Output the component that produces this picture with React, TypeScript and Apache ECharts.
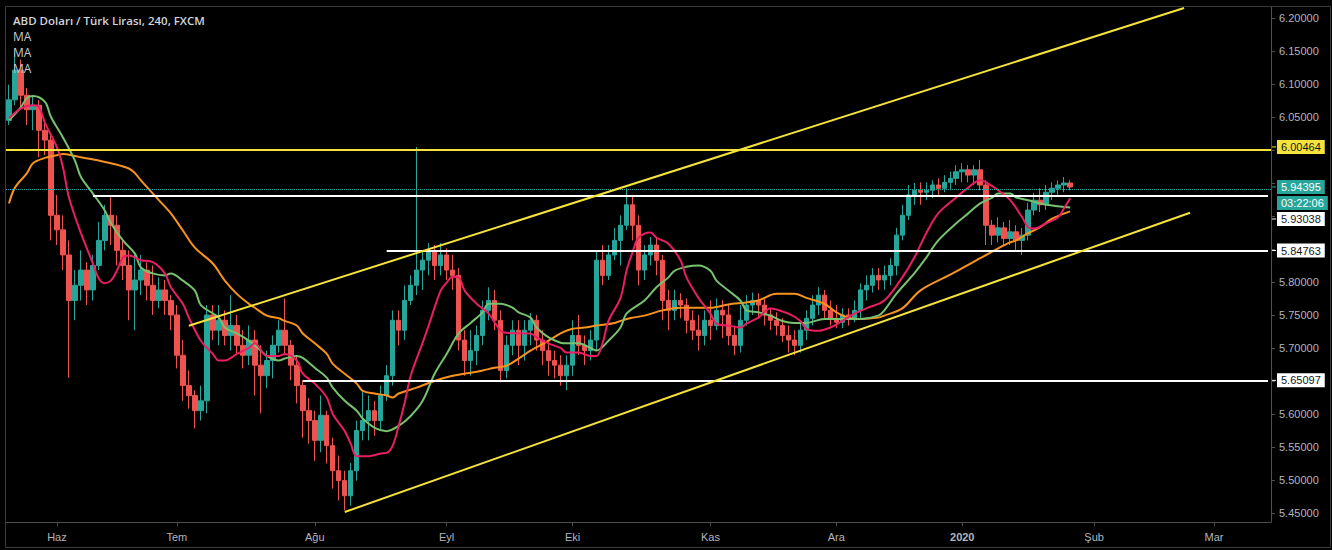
import React, { useEffect, useRef } from "react";
import * as echarts from "echarts";

// ---------- data ----------
const HOLIDAYS = ["2019-12-25", "2020-01-01"];
const DAY_COUNT = 211;
const MONTH_NAMES = ["", "Şub", "Mar", "Nis", "May", "Haz", "Tem", "Ağu", "Eyl", "Eki", "Kas", "Ara"];

const candleOpen = [
  6.045, 6.076, 6.121, 6.083, 6.061, 6.068, 6.030, 6.015, 5.901, 5.879,
  5.841, 5.772, 5.795, 5.818, 5.788, 5.825, 5.863, 5.901, 5.886, 5.848,
  5.825, 5.788, 5.803, 5.818, 5.795, 5.772, 5.788, 5.772, 5.750, 5.689,
  5.643, 5.628, 5.605, 5.620, 5.750, 5.727, 5.742, 5.719, 5.734, 5.704,
  5.689, 5.712, 5.674, 5.658, 5.681, 5.704, 5.727, 5.704, 5.674, 5.643,
  5.605, 5.590, 5.560, 5.598, 5.552, 5.514, 5.499, 5.476, 5.514, 5.575,
  5.590, 5.605, 5.590, 5.628, 5.658, 5.742, 5.727, 5.772, 5.795, 5.818,
  5.833, 5.848, 5.825, 5.841, 5.818, 5.810, 5.712, 5.681, 5.696, 5.719,
  5.757, 5.772, 5.742, 5.666, 5.704, 5.727, 5.704, 5.727, 5.742, 5.712,
  5.696, 5.681, 5.674, 5.658, 5.674, 5.719, 5.704, 5.696, 5.712, 5.833,
  5.810, 5.841, 5.863, 5.886, 5.917, 5.886, 5.818, 5.841, 5.856, 5.833,
  5.772, 5.757, 5.772, 5.765, 5.742, 5.727, 5.719, 5.742, 5.734, 5.757,
  5.750, 5.719, 5.704, 5.742, 5.765, 5.772, 5.765, 5.750, 5.742, 5.734,
  5.719, 5.712, 5.704, 5.727, 5.745, 5.765, 5.780, 5.757, 5.745, 5.739,
  5.750, 5.745, 5.757, 5.788, 5.795, 5.810, 5.803, 5.810, 5.825, 5.871,
  5.901, 5.932, 5.939, 5.936, 5.939, 5.947, 5.942, 5.951, 5.957, 5.967,
  5.970, 5.962, 5.970, 5.947, 5.886, 5.871, 5.882, 5.866, 5.876, 5.863,
  5.871, 5.909, 5.924, 5.917, 5.936, 5.942, 5.947, 5.950,
];
const candleClose = [
  6.076, 6.121, 6.083, 6.061, 6.068, 6.030, 6.015, 5.901, 5.879, 5.841,
  5.772, 5.795, 5.818, 5.788, 5.825, 5.863, 5.901, 5.886, 5.848, 5.825,
  5.788, 5.803, 5.818, 5.795, 5.772, 5.788, 5.772, 5.750, 5.689, 5.643,
  5.628, 5.605, 5.620, 5.750, 5.727, 5.742, 5.719, 5.734, 5.704, 5.689,
  5.712, 5.674, 5.658, 5.681, 5.704, 5.727, 5.704, 5.674, 5.643, 5.605,
  5.590, 5.560, 5.598, 5.552, 5.514, 5.499, 5.476, 5.514, 5.575, 5.590,
  5.605, 5.590, 5.628, 5.658, 5.742, 5.727, 5.772, 5.795, 5.818, 5.833,
  5.848, 5.825, 5.841, 5.818, 5.810, 5.712, 5.681, 5.696, 5.719, 5.757,
  5.772, 5.742, 5.666, 5.704, 5.727, 5.704, 5.727, 5.742, 5.712, 5.696,
  5.681, 5.674, 5.658, 5.674, 5.719, 5.704, 5.696, 5.712, 5.833, 5.810,
  5.841, 5.863, 5.886, 5.917, 5.886, 5.818, 5.841, 5.856, 5.833, 5.772,
  5.757, 5.772, 5.765, 5.742, 5.727, 5.719, 5.742, 5.734, 5.757, 5.750,
  5.719, 5.704, 5.742, 5.765, 5.772, 5.765, 5.750, 5.742, 5.734, 5.719,
  5.712, 5.704, 5.727, 5.745, 5.765, 5.780, 5.757, 5.745, 5.739, 5.750,
  5.745, 5.757, 5.788, 5.795, 5.810, 5.803, 5.810, 5.825, 5.871, 5.901,
  5.932, 5.939, 5.936, 5.939, 5.947, 5.942, 5.951, 5.957, 5.967, 5.970,
  5.962, 5.970, 5.947, 5.886, 5.871, 5.882, 5.866, 5.876, 5.863, 5.871,
  5.909, 5.924, 5.917, 5.936, 5.942, 5.947, 5.950, 5.94395,
];
const candleHigh = [
  6.099, 6.149, 6.137, 6.094, 6.083, 6.076, 6.046, 6.026, 5.932, 5.901,
  5.863, 5.818, 5.848, 5.830, 5.841, 5.891, 5.917, 5.930, 5.901, 5.863,
  5.848, 5.841, 5.841, 5.830, 5.825, 5.807, 5.803, 5.780, 5.765, 5.712,
  5.666, 5.636, 5.643, 5.765, 5.765, 5.765, 5.757, 5.780, 5.750, 5.727,
  5.734, 5.727, 5.704, 5.696, 5.719, 5.742, 5.775, 5.712, 5.689, 5.651,
  5.624, 5.605, 5.628, 5.605, 5.564, 5.537, 5.514, 5.526, 5.590, 5.636,
  5.628, 5.620, 5.643, 5.674, 5.757, 5.757, 5.795, 5.810, 6.00464, 5.848,
  5.859, 5.856, 5.859, 5.851, 5.841, 5.821, 5.727, 5.727, 5.734, 5.772,
  5.792, 5.788, 5.757, 5.719, 5.742, 5.742, 5.742, 5.753, 5.750, 5.727,
  5.712, 5.696, 5.689, 5.689, 5.742, 5.750, 5.719, 5.727, 5.848, 5.856,
  5.856, 5.882, 5.901, 5.942, 5.932, 5.901, 5.856, 5.868, 5.868, 5.841,
  5.788, 5.788, 5.783, 5.775, 5.757, 5.750, 5.757, 5.772, 5.775, 5.772,
  5.765, 5.734, 5.765, 5.780, 5.784, 5.783, 5.775, 5.760, 5.754, 5.745,
  5.734, 5.727, 5.739, 5.757, 5.780, 5.792, 5.788, 5.772, 5.765, 5.760,
  5.760, 5.772, 5.798, 5.810, 5.821, 5.821, 5.825, 5.836, 5.882, 5.917,
  5.947, 5.950, 5.951, 5.951, 5.954, 5.957, 5.962, 5.967, 5.977, 5.980,
  5.977, 5.977, 5.985, 5.954, 5.894, 5.898, 5.891, 5.894, 5.886, 5.882,
  5.920, 5.935, 5.942, 5.947, 5.951, 5.954, 5.959, 5.954,
];
const candleLow = [
  6.038, 6.068, 6.061, 6.038, 6.030, 5.989, 5.992, 5.863, 5.856, 5.818,
  5.655, 5.742, 5.772, 5.765, 5.772, 5.818, 5.848, 5.856, 5.825, 5.803,
  5.742, 5.727, 5.780, 5.772, 5.750, 5.760, 5.750, 5.727, 5.669, 5.620,
  5.608, 5.578, 5.590, 5.601, 5.712, 5.704, 5.704, 5.696, 5.689, 5.669,
  5.674, 5.628, 5.601, 5.639, 5.654, 5.693, 5.689, 5.651, 5.616, 5.564,
  5.555, 5.529, 5.542, 5.525, 5.487, 5.469, 5.454, 5.461, 5.499, 5.560,
  5.560, 5.567, 5.575, 5.620, 5.643, 5.704, 5.712, 5.765, 5.780, 5.788,
  5.810, 5.803, 5.810, 5.803, 5.788, 5.696, 5.658, 5.658, 5.674, 5.704,
  5.742, 5.727, 5.648, 5.654, 5.689, 5.674, 5.681, 5.704, 5.696, 5.674,
  5.658, 5.654, 5.643, 5.636, 5.658, 5.689, 5.674, 5.681, 5.696, 5.795,
  5.803, 5.833, 5.825, 5.879, 5.863, 5.795, 5.803, 5.825, 5.810, 5.742,
  5.727, 5.742, 5.745, 5.722, 5.712, 5.696, 5.704, 5.712, 5.727, 5.715,
  5.704, 5.689, 5.693, 5.734, 5.750, 5.745, 5.734, 5.727, 5.719, 5.709,
  5.693, 5.689, 5.693, 5.712, 5.734, 5.750, 5.745, 5.734, 5.730, 5.730,
  5.734, 5.739, 5.745, 5.772, 5.784, 5.788, 5.788, 5.795, 5.810, 5.863,
  5.894, 5.917, 5.917, 5.924, 5.927, 5.932, 5.936, 5.939, 5.947, 5.951,
  5.951, 5.947, 5.939, 5.856, 5.856, 5.860, 5.856, 5.856, 5.848, 5.841,
  5.863, 5.901, 5.906, 5.909, 5.924, 5.932, 5.936, 5.939,
];

// moving averages: [day index, value]
const maFast: [number, number][] = [
  [0, 6.048], [2, 6.063], [4, 6.068], [5, 6.065], [6, 6.041], [8, 6.004], [9, 5.974], [10, 5.928],
  [12, 5.874], [14, 5.828], [15, 5.805], [16, 5.798], [17, 5.802], [18, 5.817], [19, 5.837], [20, 5.840],
  [22, 5.833], [24, 5.830], [26, 5.813], [27, 5.792], [29, 5.767], [30, 5.746], [32, 5.711], [34, 5.691],
  [35, 5.681], [36, 5.681], [38, 5.691], [40, 5.700], [41, 5.707], [43, 5.688], [45, 5.688], [46, 5.691],
  [48, 5.681], [49, 5.661], [51, 5.646], [53, 5.625], [54, 5.600], [56, 5.574], [57, 5.555], [58, 5.536],
  [60, 5.536], [62, 5.540], [63, 5.541], [64, 5.552], [65, 5.582], [66, 5.617], [67, 5.658], [69, 5.708],
  [70, 5.734], [72, 5.787], [73, 5.799], [74, 5.808], [75, 5.807], [76, 5.787], [78, 5.767], [80, 5.752],
  [82, 5.726], [83, 5.723], [87, 5.722], [88, 5.716], [90, 5.707], [92, 5.700], [93, 5.693], [95, 5.693],
  [97, 5.688], [98, 5.688], [99, 5.707], [100, 5.741], [102, 5.776], [103, 5.817], [104, 5.845], [105, 5.867],
  [107, 5.875], [108, 5.867], [110, 5.858], [112, 5.833], [113, 5.807], [115, 5.776], [117, 5.752], [118, 5.737],
  [120, 5.734], [122, 5.731], [123, 5.737], [125, 5.746], [127, 5.760], [130, 5.752], [132, 5.741], [133, 5.729],
  [135, 5.726], [137, 5.731], [139, 5.741], [141, 5.752], [143, 5.760], [146, 5.772], [149, 5.807], [151, 5.837],
  [153, 5.874], [155, 5.904], [158, 5.928], [160, 5.943], [162, 5.954], [163, 5.951], [165, 5.939], [167, 5.924],
  [169, 5.898], [170, 5.883], [171, 5.881], [173, 5.889], [175, 5.898], [176, 5.912], [177, 5.927],
];
const maMid: [number, number][] = [
  [0, 6.045], [2, 6.065], [3, 6.079], [4, 6.082], [6, 6.073], [7, 6.050], [9, 6.019], [11, 5.984],
  [12, 5.959], [14, 5.934], [16, 5.908], [17, 5.889], [19, 5.863], [21, 5.843], [22, 5.822], [24, 5.813],
  [26, 5.810], [27, 5.813], [29, 5.802], [31, 5.787], [32, 5.765], [35, 5.746], [36, 5.731], [38, 5.722],
  [40, 5.711], [42, 5.696], [43, 5.688], [45, 5.681], [46, 5.684], [48, 5.688], [49, 5.685], [51, 5.670],
  [53, 5.655], [54, 5.640], [56, 5.620], [58, 5.605], [59, 5.593], [61, 5.579], [63, 5.574], [65, 5.582],
  [67, 5.597], [69, 5.620], [71, 5.661], [73, 5.691], [75, 5.722], [77, 5.738], [79, 5.754], [80, 5.767],
  [82, 5.767], [84, 5.761], [85, 5.754], [87, 5.746], [88, 5.731], [90, 5.716], [92, 5.708], [93, 5.707],
  [95, 5.707], [97, 5.700], [98, 5.696], [100, 5.711], [102, 5.731], [103, 5.752], [106, 5.772], [108, 5.792],
  [110, 5.807], [111, 5.817], [113, 5.823], [115, 5.825], [117, 5.817], [118, 5.802], [120, 5.787], [122, 5.772],
  [123, 5.757], [125, 5.754], [127, 5.749], [129, 5.741], [131, 5.738], [133, 5.738], [136, 5.744], [138, 5.744],
  [140, 5.744], [142, 5.744], [145, 5.749], [146, 5.757], [148, 5.782], [151, 5.813], [153, 5.837], [155, 5.863],
  [158, 5.889], [160, 5.904], [162, 5.919], [164, 5.928], [165, 5.934], [167, 5.934], [168, 5.928], [170, 5.924],
  [172, 5.919], [174, 5.916], [177, 5.913],
];
const maSlow: [number, number][] = [
  [0, 5.919], [1, 5.943], [3, 5.965], [4, 5.980], [6, 5.988], [8, 5.992], [9, 5.994], [11, 5.991],
  [12, 5.989], [15, 5.984], [17, 5.980], [20, 5.972], [21, 5.965], [22, 5.954], [25, 5.924], [27, 5.904],
  [29, 5.878], [31, 5.852], [34, 5.828], [36, 5.802], [38, 5.782], [40, 5.767], [41, 5.761], [43, 5.749],
  [45, 5.745], [46, 5.741], [48, 5.734], [49, 5.722], [51, 5.707], [53, 5.691], [54, 5.676], [56, 5.661],
  [58, 5.646], [59, 5.635], [61, 5.631], [63, 5.628], [64, 5.625], [65, 5.631], [68, 5.640], [70, 5.647],
  [72, 5.653], [74, 5.658], [76, 5.661], [79, 5.666], [81, 5.670], [83, 5.673], [85, 5.684], [87, 5.696],
  [90, 5.711], [92, 5.722], [94, 5.729], [96, 5.731], [98, 5.734], [101, 5.738], [103, 5.744], [104, 5.746],
  [106, 5.749], [109, 5.757], [112, 5.761], [115, 5.761], [117, 5.761], [120, 5.766], [123, 5.769], [125, 5.772],
  [128, 5.782], [131, 5.782], [133, 5.776], [136, 5.767], [138, 5.754], [140, 5.746], [142, 5.744], [145, 5.746],
  [146, 5.749], [149, 5.760], [152, 5.787], [157, 5.811], [162, 5.836], [165, 5.851], [167, 5.860], [168, 5.863],
  [170, 5.874], [172, 5.883], [174, 5.896], [177, 5.907],
];

// drawn levels and trend lines
const levelYellow = 6.00464;
const lastPrice = 5.94395;
const countdown = "03:22:06";
const whiteLevels: { start: number; value: number }[] = [
  { start: 14, value: 5.93038 },
  { start: 63, value: 5.84763 },
  { start: 49, value: 5.65097 },
];
const trendLines: [number, number, number, number][] = [
  [30, 5.7337, 196, 6.2152],
  [56, 5.4514, 197, 5.9050],
];
const hiddenTicks = [6.0, 5.95, 5.9, 5.85, 5.65];

const TITLE = "ABD Doları / Türk Lirası, 240, FXCM";
const MA_LABELS = ["MA", "MA", "MA"];

// ---------- helpers ----------
function buildDays(count: number): string[] {
  const out: string[] = [];
  const d = new Date(Date.UTC(2019, 4, 22));
  while (out.length < count) {
    const wd = d.getUTCDay();
    const iso = d.toISOString().slice(0, 10);
    if (wd !== 0 && wd !== 6 && HOLIDAYS.indexOf(iso) < 0) out.push(iso);
    d.setUTCDate(d.getUTCDate() + 1);
  }
  return out;
}

const UP = "#26a69a";
const DOWN = "#ef5350";
const YELLOW = "#f5e23a";
const AXIS_GRAY = "#4e4e4e";
const LABEL_GRAY = "#b2b5be";
const FONT = "'Liberation Sans', Arial, sans-serif";

export default function App() {
  const ref = useRef<HTMLDivElement>(null);

  useEffect(() => {
    if (!ref.current) return;
    const chart = echarts.init(ref.current, undefined, { renderer: "svg" });
    const days = buildDays(DAY_COUNT);
    const monthStart = days.map((d, i) => i > 0 && d.slice(5, 7) !== days[i - 1].slice(5, 7));
    const monthLabel = (d: string) => {
      const m = parseInt(d.slice(5, 7), 10) - 1;
      return m === 0 ? d.slice(0, 4) : MONTH_NAMES[m];
    };
    const showIdx = (idx: number) => monthStart[idx];

    const candles = candleOpen.map((o, i) => [o, candleClose[i], candleLow[i], candleHigh[i]]);
    const toLine = (arr: [number, number][]) => arr.map(([i, v]) => [days[i], v]);

    const markData: any[] = [
      { yAxis: levelYellow, lineStyle: { color: YELLOW, width: 2, type: "solid" } },
      { yAxis: lastPrice, lineStyle: { color: UP, width: 1, type: "dotted" } },
    ];
    whiteLevels.forEach((l) => {
      markData.push([
        { coord: [days[l.start], l.value], lineStyle: { color: "#ffffff", width: 2, type: "solid" } },
        { coord: [days[DAY_COUNT - 1], l.value] },
      ]);
    });
    trendLines.forEach(([i0, v0, i1, v1]) => {
      markData.push([
        { coord: [days[i0], v0], lineStyle: { color: YELLOW, width: 2, type: "solid" } },
        { coord: [days[i1], v1] },
      ]);
    });

    const maSeries = (name: string, data: [number, number][], color: string) => ({
      name,
      type: "line",
      data: toLine(data),
      showSymbol: false,
      smooth: 0.35,
      lineStyle: { color, width: 2 },
      silent: true,
      z: 3,
    });

    const isTick = (v: number) => Math.abs(v * 20 - Math.round(v * 20)) < 1e-6;

    chart.setOption({
      animation: false,
      backgroundColor: "#000000",
      grid: { left: 6, right: 61, top: 7, bottom: 28 },
      xAxis: {
        type: "category",
        data: days,
        boundaryGap: true,
        axisLine: { lineStyle: { color: AXIS_GRAY, width: 1 } },
        axisTick: { show: true, interval: showIdx, alignWithLabel: true, length: 4, lineStyle: { color: AXIS_GRAY } },
        axisLabel: {
          interval: showIdx,
          formatter: (v: string) => {
            const lbl = monthLabel(v);
            return /^\d{4}$/.test(lbl) ? "{b|" + lbl + "}" : lbl;
          },
          color: LABEL_GRAY,
          fontSize: 11,
          fontFamily: FONT,
          margin: 9,
          rich: { b: { fontWeight: "bold", color: LABEL_GRAY, fontSize: 11, fontFamily: FONT } },
        },
        splitLine: { show: false },
      },
      yAxis: {
        type: "value",
        position: "right",
        min: 5.4363,
        max: 6.2167,
        splitNumber: 16,
        axisLine: { show: true, lineStyle: { color: AXIS_GRAY } },
        axisTick: { show: true, length: 4, lineStyle: { color: AXIS_GRAY } },
        axisLabel: {
          color: LABEL_GRAY,
          fontSize: 11,
          fontFamily: FONT,
          margin: 8,
          showMaxLabel: false,
          showMinLabel: false,
          formatter: (v: number) =>
            !isTick(v) || hiddenTicks.some((h) => Math.abs(h - v) < 1e-6) ? "" : v.toFixed(5),
        },
        splitLine: { show: false },
      },
      series: [
        {
          name: "USDTRY",
          type: "candlestick",
          data: candles,
          barWidth: 5,
          itemStyle: { color: UP, color0: DOWN, borderColor: UP, borderColor0: DOWN, borderWidth: 1 },
          z: 2,
          markLine: {
            silent: true,
            symbol: ["none", "none"],
            label: { show: false },
            animation: false,
            data: markData,
          },
        },
        maSeries("MA slow", maSlow, "#f7931e"),
        maSeries("MA mid", maMid, "#78c26f"),
        maSeries("MA fast", maFast, "#e91e63"),
      ],
    });

    // price tags on the axis
    const yPix = (v: number) => chart.convertToPixel({ yAxisIndex: 0 }, v) as number;
    const tagX = 1277;
    const tag = (text: string, y: number, bg: string, fg: string) => [
      { type: "line", shape: { x1: 1272, y1: y, x2: 1276, y2: y }, style: { stroke: bg, lineWidth: 1 }, z: 100 },
      {
        type: "text",
        x: tagX,
        y,
        z: 100,
        style: {
          text,
          fill: fg,
          font: "11px " + FONT,
          backgroundColor: bg,
          padding: [2, 4, 1, 4],
          verticalAlign: "middle",
          align: "left",
        },
      },
    ];
    const yYellow = yPix(levelYellow);
    const yLast = yPix(lastPrice);
    const graphics: any[] = [
      {
        type: "rect",
        shape: { x: 5.5, y: 6.5, width: 1325, height: 541 },
        style: { fill: "none", stroke: "#3a3a3a", lineWidth: 1 },
        z: 90,
      },
      {
        type: "text",
        x: 13,
        y: 14,
        z: 100,
        style: { text: TITLE, fill: "#d1d4dc", font: "600 11.5px 'Open Sans', sans-serif" },
      },
      ...MA_LABELS.map((t, i) => ({
        type: "text",
        x: 13,
        y: 30 + i * 16,
        z: 100,
        style: { text: t, fill: "#c8cad0", font: "12px 'Open Sans', sans-serif" },
      })),
      ...tag(levelYellow.toFixed(5), yYellow, YELLOW, "#131722"),
      ...tag(lastPrice.toFixed(5), yLast, UP, "#ffffff"),
      {
        type: "text",
        x: tagX,
        y: yLast + 16,
        z: 100,
        style: {
          text: countdown,
          fill: "#ffffff",
          font: "11px " + FONT,
          backgroundColor: UP,
          padding: [2, 4, 1, 4],
          verticalAlign: "middle",
          align: "left",
        },
      },
    ];
    whiteLevels.forEach((l, i) => {
      let y = yPix(l.value);
      if (i === 0) y = yLast + 32; // stacked below the countdown tag
      graphics.push(...tag(l.value.toFixed(5), y, "#ffffff", "#131722"));
    });
    chart.setOption({ graphic: graphics });

    return () => chart.dispose();
  }, []);

  return (
    <div
      ref={ref}
      style={{ position: "absolute", left: 0, top: 0, width: 1332, height: 550, background: "#000" }}
    />
  );
}
